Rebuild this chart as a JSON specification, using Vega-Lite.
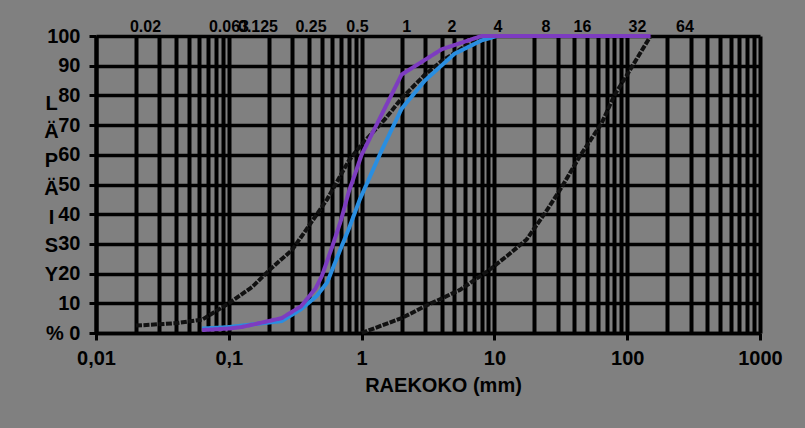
{
  "$schema": "https://vega.github.io/schema/vega-lite/v6.json",
  "width": 664,
  "height": 297,
  "autosize": {"type": "none"},
  "padding": {"left": 96, "top": 36, "right": 45, "bottom": 95},
  "background": "#808080",
  "config": {"view": {"stroke": null}, "font": "Liberation Sans"},
  "datasets": {
    "curves": [
      {"series": "ala", "x": 0.02, "y": 2.5},
      {"series": "ala", "x": 0.04, "y": 3.3},
      {"series": "ala", "x": 0.063, "y": 4.5},
      {"series": "ala", "x": 0.1, "y": 10},
      {"series": "ala", "x": 0.15, "y": 15.5},
      {"series": "ala", "x": 0.2, "y": 21},
      {"series": "ala", "x": 0.3, "y": 28},
      {"series": "ala", "x": 0.4, "y": 36},
      {"series": "ala", "x": 0.55, "y": 45},
      {"series": "ala", "x": 0.8, "y": 58},
      {"series": "ala", "x": 1, "y": 63.5},
      {"series": "ala", "x": 1.5, "y": 72},
      {"series": "ala", "x": 2, "y": 79},
      {"series": "ala", "x": 3, "y": 87},
      {"series": "ala", "x": 4, "y": 91.5},
      {"series": "ala", "x": 6, "y": 96.5},
      {"series": "ala", "x": 8, "y": 99},
      {"series": "ala", "x": 10, "y": 100},
      {"series": "yla", "x": 1, "y": 0},
      {"series": "yla", "x": 2, "y": 5},
      {"series": "yla", "x": 3, "y": 9},
      {"series": "yla", "x": 5.5, "y": 14.5},
      {"series": "yla", "x": 9, "y": 21},
      {"series": "yla", "x": 12.5, "y": 26},
      {"series": "yla", "x": 17.5, "y": 31.5},
      {"series": "yla", "x": 25, "y": 41.5},
      {"series": "yla", "x": 32, "y": 49},
      {"series": "yla", "x": 44, "y": 59.5},
      {"series": "yla", "x": 64, "y": 70.5},
      {"series": "yla", "x": 80, "y": 80},
      {"series": "yla", "x": 100, "y": 87},
      {"series": "yla", "x": 150, "y": 100},
      {"series": "n1", "x": 0.063, "y": 1.5},
      {"series": "n1", "x": 0.1, "y": 2},
      {"series": "n1", "x": 0.25, "y": 4},
      {"series": "n1", "x": 0.35, "y": 8},
      {"series": "n1", "x": 0.46, "y": 12.5},
      {"series": "n1", "x": 0.55, "y": 17},
      {"series": "n1", "x": 0.69, "y": 28},
      {"series": "n1", "x": 0.8, "y": 35},
      {"series": "n1", "x": 0.97, "y": 45},
      {"series": "n1", "x": 1.4, "y": 61},
      {"series": "n1", "x": 2, "y": 75.5},
      {"series": "n1", "x": 3, "y": 85},
      {"series": "n1", "x": 5, "y": 94},
      {"series": "n1", "x": 8, "y": 98.5},
      {"series": "n1", "x": 10.5, "y": 100},
      {"series": "n2", "x": 0.063, "y": 1},
      {"series": "n2", "x": 0.1, "y": 1.5},
      {"series": "n2", "x": 0.125, "y": 2},
      {"series": "n2", "x": 0.25, "y": 5},
      {"series": "n2", "x": 0.35, "y": 9},
      {"series": "n2", "x": 0.45, "y": 15},
      {"series": "n2", "x": 0.5, "y": 19},
      {"series": "n2", "x": 0.6, "y": 29},
      {"series": "n2", "x": 0.7, "y": 38},
      {"series": "n2", "x": 0.8, "y": 47.5},
      {"series": "n2", "x": 0.9, "y": 54},
      {"series": "n2", "x": 1, "y": 60},
      {"series": "n2", "x": 2, "y": 87},
      {"series": "n2", "x": 4, "y": 95.5},
      {"series": "n2", "x": 8, "y": 100},
      {"series": "n2", "x": 150, "y": 100}
    ],
    "toplabels": [
      {"label": "0.02", "x": 0.02359},
      {"label": "0.063", "x": 0.1003},
      {"label": "0.125", "x": 0.1659},
      {"label": "0.25", "x": 0.4159},
      {"label": "0.5", "x": 0.9313},
      {"label": "1", "x": 2.186},
      {"label": "2", "x": 4.794},
      {"label": "4", "x": 10.64},
      {"label": "8", "x": 24.47},
      {"label": "16", "x": 46.06},
      {"label": "32", "x": 119.5},
      {"label": "64", "x": 272.4}
    ]
  },
  "resolve": {"axis": {"x": "independent", "y": "independent"}},
  "layer": [
    {
      "data": {"name": "toplabels"},
      "mark": {"type": "text", "fontSize": 16, "fontWeight": "bold", "baseline": "alphabetic", "align": "center", "dy": -4, "color": "black"},
      "encoding": {
        "x": {
          "field": "x", "type": "quantitative",
          "scale": {"type": "log", "domain": [0.01, 1000]},
          "axis": {
            "orient": "top",
            "values": [0.01,0.02,0.03,0.04,0.05,0.06,0.07,0.08,0.09,0.1,0.2,0.3,0.4,0.5,0.6,0.7,0.8,0.9,1,2,3,4,5,6,7,8,9,10,20,30,40,50,60,70,80,90,100,200,300,400,500,600,700,800,900,1000],
            "grid": true, "gridColor": "black", "gridWidth": 4, "gridOpacity": 1,
            "labels": false, "ticks": false, "domain": false, "title": null
          }
        },
        "y": {"datum": 100, "type": "quantitative", "scale": {"domain": [0, 100]}, "axis": null},
        "text": {"field": "label"}
      }
    },
    {
      "data": {"name": "curves"},
      "mark": {"type": "line", "strokeWidth": 4},
      "encoding": {
        "x": {
          "field": "x", "type": "quantitative",
          "scale": {"type": "log", "domain": [0.01, 1000]},
          "axis": {
            "orient": "bottom",
            "values": [0.01, 0.1, 1, 10, 100, 1000],
            "labelExpr": "replace(format(datum.value, '~g'), '.', ',')",
            "grid": false,
            "domain": true, "domainColor": "black", "domainWidth": 3.5,
            "ticks": true, "tickColor": "black", "tickWidth": 3, "tickSize": 7,
            "labelFont": "Liberation Sans", "labelFontSize": 20, "labelFontWeight": "bold", "labelColor": "black",
            "labelPadding": 8, "labelFlush": false, "labelOverlap": false,
            "title": "RAEKOKO (mm)",
            "titleFont": "Liberation Sans", "titleFontSize": 20, "titleFontWeight": "bold", "titleColor": "black",
            "titleX": 347, "titleY": 42, "titleAlign": "center", "titleBaseline": "top"
          }
        },
        "y": {
          "field": "y", "type": "quantitative",
          "scale": {"domain": [0, 100]},
          "axis": {
            "values": [0,10,20,30,40,50,60,70,80,90,100],
            "labelExpr": "datum.value == 0 ? '%  0' : datum.label",
            "grid": true, "gridColor": "black", "gridWidth": 3.5, "gridOpacity": 1,
            "domain": true, "domainColor": "black", "domainWidth": 4,
            "ticks": true, "tickColor": "black", "tickWidth": 3, "tickSize": 7,
            "labelFont": "Liberation Sans", "labelFontSize": 20, "labelFontWeight": "bold", "labelColor": "black",
            "labelPadding": 9, "labelFlush": false, "labelOverlap": false,
            "title": ["L", "Ä", "P", "Ä", "I", "S", "Y"],
            "titleFont": "Liberation Sans", "titleFontSize": 20, "titleFontWeight": "bold", "titleColor": "black",
            "titleAngle": 0, "titleLineHeight": 28.5, "titleAlign": "center", "titleBaseline": "alphabetic",
            "titleX": -45, "titleY": 73
          }
        },
        "color": {
          "field": "series", "type": "nominal",
          "scale": {"domain": ["ala", "yla", "n1", "n2"], "range": ["#111111", "#111111", "#2a8ee0", "#7d3cc0"]},
          "legend": null
        },
        "strokeDash": {
          "field": "series", "type": "nominal",
          "scale": {"domain": ["ala", "yla", "n1", "n2"], "range": [[6, 1.5], [6, 1.5], [1, 0], [1, 0]]},
          "legend": null
        }
      }
    }
  ]
}
